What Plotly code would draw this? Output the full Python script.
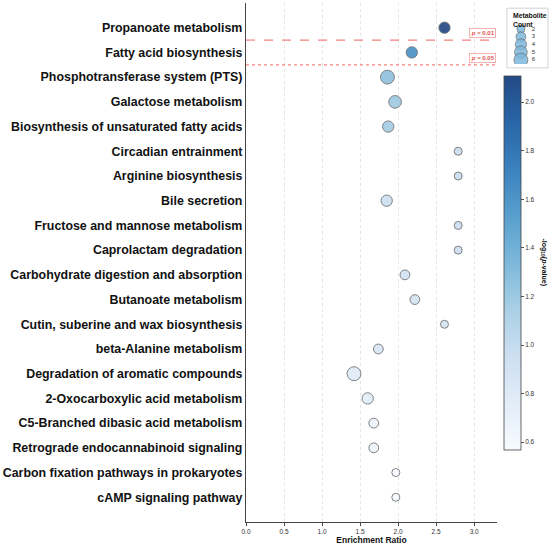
import numpy as np
import plotly.graph_objects as go

pathways = [
    "Propanoate metabolism",
    "Fatty acid biosynthesis",
    "Phosphotransferase system (PTS)",
    "Galactose metabolism",
    "Biosynthesis of unsaturated fatty acids",
    "Circadian entrainment",
    "Arginine biosynthesis",
    "Bile secretion",
    "Fructose and mannose metabolism",
    "Caprolactam degradation",
    "Carbohydrate digestion and absorption",
    "Butanoate metabolism",
    "Cutin, suberine and wax biosynthesis",
    "beta-Alanine metabolism",
    "Degradation of aromatic compounds",
    "2-Oxocarboxylic acid metabolism",
    "C5-Branched dibasic acid metabolism",
    "Retrograde endocannabinoid signaling",
    "Carbon fixation pathways in prokaryotes",
    "cAMP signaling pathway",
]
enrichment = [2.61, 2.18, 1.86, 1.96, 1.87, 2.79, 2.79, 1.85, 2.79, 2.79,
              2.09, 2.22, 2.61, 1.74, 1.42, 1.60, 1.68, 1.68, 1.97, 1.97]
counts = [4, 4, 6, 5, 4, 2, 2, 4, 2, 2, 3, 3, 2, 3, 6, 4, 3, 3, 2, 2]
neglogp = [2.11, 1.62, 1.26, 1.20, 1.17, 0.97, 0.97, 0.95, 0.95, 0.95,
           0.90, 0.88, 0.87, 0.84, 0.78, 0.74, 0.68, 0.67, 0.58, 0.57]

legend_counts = [2, 3, 4, 5, 6]
x_ticks = [0.0, 0.5, 1.0, 1.5, 2.0, 2.5, 3.0]
cbar_ticks = [0.6, 0.8, 1.0, 1.2, 1.4, 1.6, 1.8, 2.0]
thresholds = [(0.01, "dash"), (0.05, "dot")]

blues = [
    [0.0, "#f7fbff"], [0.125, "#e2edf8"], [0.25, "#cddff1"],
    [0.375, "#aad0e5"], [0.5, "#7db8db"], [0.625, "#599fcd"],
    [0.75, "#3c82be"], [0.875, "#2866a8"], [1.0, "#234a85"],
]

SIZEREF = 1 / 16
FONT = "Liberation Sans"

fig = go.Figure()

fig.add_trace(go.Scatter(
    x=enrichment, y=pathways, mode="markers",
    marker=dict(
        size=counts, sizemode="area", sizeref=SIZEREF,
        color=neglogp, colorscale=blues, opacity=0.92,
        line=dict(color="#6a6a6a", width=0.9),
        colorbar=dict(
            x=0.854, xanchor="left", y=0.5, yanchor="middle",
            len=374, lenmode="pixels", thickness=17,
            xpad=0, ypad=0, outlinewidth=0.8, outlinecolor="#444",
            tickvals=cbar_ticks, ticktext=[f"{v:.1f}" for v in cbar_ticks],
            ticks="outside", ticklen=3, tickcolor="#555",
            tickfont=dict(family=FONT, size=6.5, color="#333"),
        ),
    ),
    showlegend=False, hoverinfo="skip",
))

# size legend drawn on its own small axes
fig.add_trace(go.Scatter(
    x=[0] * len(legend_counts), y=legend_counts, mode="markers",
    marker=dict(size=legend_counts, sizemode="area", sizeref=SIZEREF,
                color="#7fb8dd", opacity=0.85,
                line=dict(color="#666666", width=0.8)),
    xaxis="x2", yaxis="y2", showlegend=False, hoverinfo="skip",
))
fig.add_trace(go.Scatter(
    x=[1] * len(legend_counts), y=legend_counts, mode="text",
    text=[str(c) for c in legend_counts], textposition="middle right",
    textfont=dict(family=FONT, size=6, color="#333"),
    xaxis="x2", yaxis="y2", showlegend=False, hoverinfo="skip",
))

# significance lines
for p, dash in thresholds:
    n_sig = int(np.sum(np.array(neglogp) >= -np.log10(p)))
    ypos = n_sig - 0.5
    fig.add_shape(type="line", xref="x", yref="y", x0=0, x1=3.3,
                  y0=ypos, y1=ypos,
                  line=dict(color="#f4837d", width=1.2, dash=dash))
    fig.add_annotation(
        xref="paper", yref="y", x=0.828, y=ypos, xanchor="right",
        yanchor="bottom", yshift=2, showarrow=False,
        text=f"<i>p</i> = {p}",
        font=dict(family=FONT, size=6, color="#e0544c", weight="bold"),
        bgcolor="white", bordercolor="#f4a09a", borderwidth=0.8, borderpad=1,
    )

# legend box and titles
fig.add_shape(type="rect", xref="paper", yref="paper",
              x0=0.864, x1=1.0, y0=0.875, y1=0.990,
              line=dict(color="#c8c8c8", width=0.8), fillcolor="rgba(0,0,0,0)")
fig.add_annotation(xref="paper", yref="paper", x=0.877, y=0.986,
                   xanchor="left", yanchor="top", showarrow=False, align="left",
                   text="Metabolite<br>Count",
                   font=dict(family=FONT, size=6.8, color="#111", weight="bold"))
fig.add_annotation(xref="paper", yref="paper", x=0.99, y=0.5,
                   xanchor="center", yanchor="middle", showarrow=False,
                   textangle=90, text="-log<sub>10</sub>(<i>p</i>-value)",
                   font=dict(family=FONT, size=7, color="#111", weight="bold"))

fig.update_layout(
    width=550, height=547,
    margin=dict(l=246, r=2, t=3, b=25),
    plot_bgcolor="white", paper_bgcolor="white",
    font=dict(family=FONT, color="#111"),
    xaxis=dict(
        domain=[0, 0.831], range=[0, 3.3],
        tickvals=x_ticks, ticktext=[f"{v:.1f}" for v in x_ticks],
        ticks="outside", ticklen=3, tickcolor="#444",
        tickfont=dict(family=FONT, size=6.5, color="#333"),
        showgrid=True, gridcolor="#e4e4e4", griddash="dot", gridwidth=1,
        showline=True, linecolor="#444", linewidth=1.3, zeroline=False,
        title=dict(text="Enrichment Ratio", standoff=3,
                   font=dict(family=FONT, size=8.5, color="#111", weight="bold")),
    ),
    yaxis=dict(
        categoryorder="array", categoryarray=pathways,
        range=[len(pathways), -1],
        showgrid=False, zeroline=False, ticks="",
        showline=True, linecolor="#444", linewidth=1.3,
        tickfont=dict(family=FONT, size=12.4, color="#111", weight="bold"),
    ),
    xaxis2=dict(domain=[0.874, 0.99], range=[-1, 2.2], visible=False,
                anchor="y2"),
    yaxis2=dict(domain=[0.8827, 0.9574], range=[6.5, 1.5], visible=False,
                anchor="x2"),
)

fig.write_html("out.html", config={"displayModeBar": False},
               post_script="document.body.style.margin='0';")
